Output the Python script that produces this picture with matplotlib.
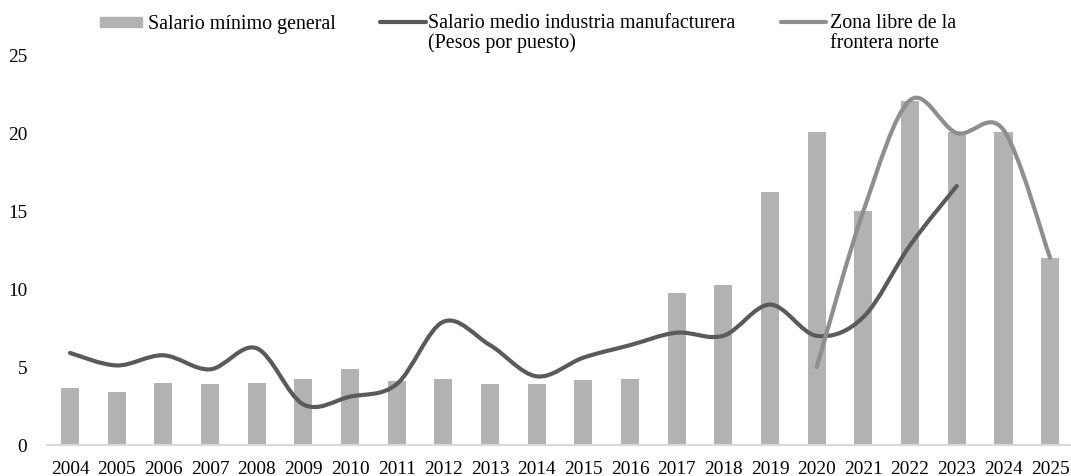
import matplotlib
matplotlib.use("Agg")
import matplotlib.pyplot as plt
import numpy as np
from matplotlib.path import Path
from matplotlib.patches import PathPatch, Rectangle
from matplotlib.lines import Line2D

plt.rcParams['font.family'] = ['Liberation Serif', 'DejaVu Serif']

years = [str(y) for y in range(2004, 2026)]
salario_minimo = [3.65, 3.4, 4.0, 3.9, 4.0, 4.2, 4.85, 4.1, 4.2, 3.9, 3.9,
                  4.15, 4.2, 9.75, 10.25, 16.25, 20.05, 15.0, 22.05, 20.05, 20.05, 12.0]
# manufacturing wage runs 2004-2023
salario_medio = [5.9, 5.1, 5.75, 4.85, 6.2, 2.6, 3.1, 3.9, 7.9, 6.4, 4.4,
                 5.6, 6.4, 7.2, 7.0, 9.0, 7.0, 8.2, 12.8, 16.6]
# border zone runs 2020-2025
zona_frontera = [5.0, 15.0, 22.1, 20.0, 20.2, 12.0]

bar_color = '#b2b2b2'
dark_line = '#5a5a5a'
light_line = '#8e8e8e'


def smooth_path(xs, ys):
    # cubic bezier through every point, excel style smoothing
    pts = np.column_stack([xs, ys]).astype(float)
    n = len(pts)
    verts = [pts[0]]
    codes = [Path.MOVETO]
    for i in range(n - 1):
        p0 = pts[i - 1] if i > 0 else pts[i]
        p1 = pts[i]
        p2 = pts[i + 1]
        p3 = pts[i + 2] if i + 2 < n else pts[i + 1]
        c1 = p1 + (p2 - p0) / 6.0
        c2 = p2 - (p3 - p1) / 6.0
        verts += [c1, c2, p2]
        codes += [Path.CURVE4] * 3
    return Path(verts, codes)


W, H = 1071, 477
step = 46.67  # pixels per category
left_px = 70 - step / 2

fig = plt.figure(figsize=(W / 100, H / 100), dpi=100)
ax = fig.add_axes([left_px / W, (H - 446) / H, (W - left_px) / W, 390 / H])

x = np.arange(len(years))
ax.bar(x, salario_minimo, width=0.39, color=bar_color, zorder=2)

xm = np.arange(len(salario_medio))
ax.add_patch(PathPatch(smooth_path(xm, salario_medio), fill=False,
                       edgecolor=dark_line, lw=3.0, capstyle='round', zorder=3))
xz = np.arange(len(years) - len(zona_frontera), len(years))
ax.add_patch(PathPatch(smooth_path(xz, zona_frontera), fill=False,
                       edgecolor=light_line, lw=3.0, capstyle='round', zorder=4))

ax.set_xlim(-0.5, -0.5 + (W - left_px) / step)
ax.set_ylim(0, 25)
ax.set_xticks(x)
ax.set_xticklabels(years)
ax.set_yticks([0, 5, 10, 15, 20, 25])
ax.tick_params(axis='both', length=0, labelsize=13.9)
ax.tick_params(axis='y', pad=14)
ax.tick_params(axis='x', pad=11)
for s in ['top', 'right', 'left']:
    ax.spines[s].set_visible(False)
ax.spines['bottom'].set_color('#d9d9d9')
ax.spines['bottom'].set_linewidth(1.5)


# legend drawn in figure pixels
def fx(px):
    return px / W


def fy(py):
    return 1 - py / H


lfs = 14.4
fig.patches.append(Rectangle((fx(100), fy(28)), fx(42), 10 / H, transform=fig.transFigure,
                             color=bar_color, figure=fig))
fig.text(fx(148), fy(24), 'Salario mínimo general', fontsize=lfs, va='center')
fig.lines.append(Line2D([fx(380), fx(426)], [fy(22.5), fy(22.5)], transform=fig.transFigure,
                        color=dark_line, lw=3.0, solid_capstyle='round', figure=fig))
fig.text(fx(428), fy(24), 'Salario medio industria manufacturera', fontsize=lfs, va='center')
fig.text(fx(428), fy(43), '(Pesos por puesto)', fontsize=lfs, va='center')
fig.lines.append(Line2D([fx(781), fx(826)], [fy(22.5), fy(22.5)], transform=fig.transFigure,
                        color=light_line, lw=3.0, solid_capstyle='round', figure=fig))
fig.text(fx(830), fy(24), 'Zona libre de la', fontsize=lfs, va='center')
fig.text(fx(830), fy(43), 'frontera norte', fontsize=lfs, va='center')

fig.savefig('out.png', dpi=100)
